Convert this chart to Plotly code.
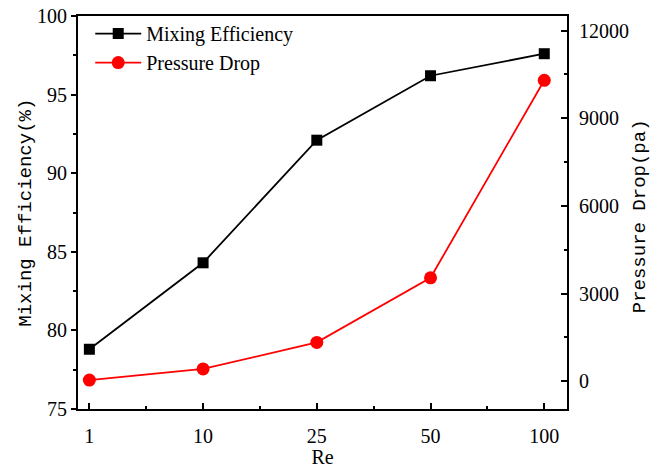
import plotly.graph_objects as go

# Reynolds numbers (shown as evenly spaced categories)
re_labels = ["1", "10", "25", "50", "100"]
# Mixing efficiency (%)
mixing_eff = [78.8, 84.3, 92.1, 96.2, 97.6]
# Pressure drop (Pa)
pressure_drop = [40, 420, 1330, 3540, 10300]

x_pos = list(range(len(re_labels)))

serif = "Liberation Serif, Times New Roman, serif"
mono = "Liberation Mono, Courier New, monospace"

fig = go.Figure()
fig.add_trace(go.Scatter(
    x=x_pos, y=mixing_eff, name="Mixing Efficiency", mode="lines+markers",
    line=dict(color="black", width=1.8),
    marker=dict(symbol="square", size=11, color="black"),
))
fig.add_trace(go.Scatter(
    x=x_pos, y=pressure_drop, name="Pressure Drop", mode="lines+markers",
    line=dict(color="red", width=1.8),
    marker=dict(symbol="circle", size=13, color="red"),
    yaxis="y2",
))

# vertical axis titles placed as rotated annotations
fig.add_annotation(text="Mixing Efficiency(%)", xref="paper", yref="paper",
                   x=-0.108, y=0.5, xanchor="center", yanchor="middle",
                   textangle=-90, showarrow=False,
                   font=dict(family=mono, size=19, color="black"))
fig.add_annotation(text="Pressure Drop(pa)", xref="paper", yref="paper",
                   x=1.151, y=0.49, xanchor="center", yanchor="middle",
                   textangle=-90, showarrow=False,
                   font=dict(family=mono, size=19, color="black"))

fig.update_layout(
    width=654, height=468,
    margin=dict(l=78, r=87, t=16, b=59),
    plot_bgcolor="white", paper_bgcolor="white",
    font=dict(family=serif, size=20, color="black"),
    showlegend=True,
    legend=dict(x=0.025, y=1.005, xanchor="left", yanchor="top",
                bgcolor="rgba(0,0,0,0)", font=dict(family=serif, size=20),
                itemwidth=46, tracegroupgap=0),
    xaxis=dict(
        range=[-0.1, 4.2], tickmode="array", tickvals=x_pos, ticktext=re_labels,
        automargin=False,
        showgrid=False, zeroline=False,
        showline=True, linecolor="black", linewidth=2, mirror=True,
        ticks="inside", ticklen=6, tickwidth=2, tickcolor="black",
        minor=dict(tickvals=[0.5, 1.5, 2.5, 3.5], ticks="inside", ticklen=3,
                   tickwidth=2, tickcolor="black"),
        ticklabelstandoff=8,
        title=dict(text="Re", font=dict(family=serif, size=20), standoff=4),
        tickfont=dict(family=serif, size=20),
    ),
    yaxis=dict(
        range=[75, 100], tickmode="linear", tick0=75, dtick=5,
        automargin=False,
        showgrid=False, zeroline=False,
        showline=True, linecolor="black", linewidth=2,
        ticks="outside", ticklen=5, tickwidth=2, tickcolor="black",
        minor=dict(dtick=2.5, tick0=75, ticks="outside", ticklen=3,
                   tickwidth=2, tickcolor="black"),
        tickfont=dict(family=serif, size=20),
    ),
    yaxis2=dict(
        range=[-950, 12500], overlaying="y", side="right",
        automargin=False,
        tickmode="linear", tick0=0, dtick=3000, tickformat="d",
        showgrid=False, zeroline=False,
        showline=True, linecolor="black", linewidth=2,
        ticks="inside", ticklen=6, tickwidth=2, tickcolor="black",
        minor=dict(dtick=1500, tick0=0, ticks="inside", ticklen=3,
                   tickwidth=2, tickcolor="black"),
        ticklabelstandoff=6,
        tickfont=dict(family=serif, size=20),
    ),
)

fig.write_html("out.html")
